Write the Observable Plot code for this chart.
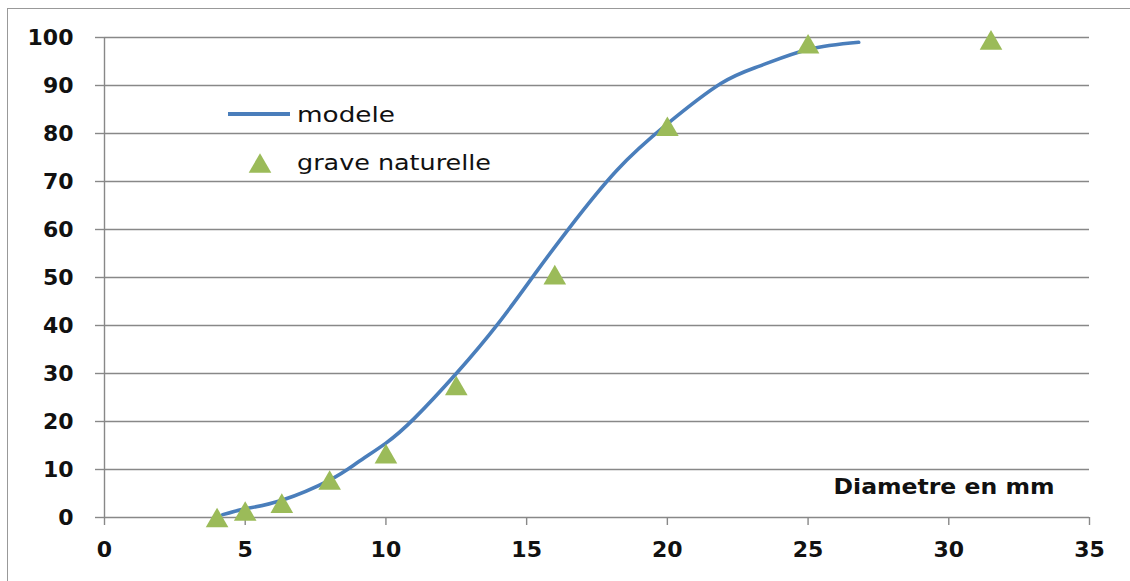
<!DOCTYPE html>
<html><head><meta charset="utf-8">
<script src="https://cdn.jsdelivr.net/npm/d3@7"></script>
<script src="https://cdn.jsdelivr.net/npm/@observablehq/plot@0.6"></script>
<style>
body{margin:0;background:#fff;}
#wrap{position:relative;width:1130px;height:581px;overflow:hidden;background:#fff;}
#frame{position:absolute;left:7px;top:8px;width:1300px;height:800px;border:1px solid #999;}
#chart{position:absolute;left:0;top:0;}
#legend{position:absolute;left:0;top:0;pointer-events:none;}
</style></head><body>
<div id="wrap"><div id="frame"></div><div id="chart"></div><svg id="legend" width="1130" height="581"></svg></div>
<script>
const seriesNames = ["modele", "grave naturelle"];
const xLabel = "Diametre en mm";
const modeleX = [4.2, 5, 6.3, 8, 9, 10, 11, 12.5, 14, 15.3, 16.5, 18.2, 20, 21.9, 23.3, 25, 26.8];
const modeleY = [0.6, 1.8, 3.6, 7.8, 11.5, 15.5, 20.6, 30, 40.5, 50.8, 60.2, 72.3, 82, 90.4, 94.1, 97.5, 99];
const graveX = [4, 5, 6.3, 8, 10, 12.5, 16, 20, 25, 31.5];
const graveY = [0, 1.35, 3, 7.8, 13.3, 27.5, 50.6, 81.5, 98.7, 99.5];
const xTicks = [0, 5, 10, 15, 20, 25, 30, 35];
const yTicks = [0, 10, 20, 30, 40, 50, 60, 70, 80, 90, 100];

const modele = modeleX.map((x, i) => ({x, y: modeleY[i]}));
const grave = graveX.map((x, i) => ({x, y: graveY[i]}));

const blue = "#4A7EBB", green = "#9BBB59", grid = "#888888";
const tickFont = "DejaVu Sans", textFont = "DejaVu Sans";

// triangle centred on its bounding box (like Excel markers)
const triangle = {
  draw(ctx, size) {
    const s = Math.sqrt(size * 4 / Math.sqrt(3));
    const h = s * Math.sqrt(3) / 2;
    ctx.moveTo(0, -h / 2);
    ctx.lineTo(s / 2, h / 2);
    ctx.lineTo(-s / 2, h / 2);
    ctx.closePath();
  }
};

const chart = Plot.plot({
  width: 1130, height: 581,
  marginLeft: 104, marginRight: 41, marginTop: 37, marginBottom: 64,
  x: {domain: [0, 35]},
  y: {domain: [0, 100]},
  style: {background: "transparent"},
  marks: [
    Plot.gridY(yTicks, {stroke: grid, strokeOpacity: 1, strokeWidth: 1.4}),
    Plot.axisY(yTicks, {tickSize: 9, tickPadding: 22, stroke: grid, strokeWidth: 1.4, fill: "#111",
      fontFamily: tickFont, fontSize: 22, fontWeight: "bold", label: null, tickFormat: d => d}),
    Plot.ruleX([0], {stroke: grid, strokeWidth: 1.4}),
    Plot.axisX(xTicks, {tickSize: 8, tickPadding: 16, stroke: grid, strokeWidth: 1.4, fill: "#111",
      fontFamily: tickFont, fontSize: 22, fontWeight: "bold", label: null, tickFormat: d => d}),
    Plot.line(modele, {x: "x", y: "y", curve: "natural", stroke: blue, strokeWidth: 3.6}),
    Plot.dot(grave, {x: "x", y: "y", symbol: triangle, r: 8.4, fill: green, stroke: "none"}),
    Plot.text([xLabel], {frameAnchor: "bottom-right", dx: -35, dy: -24, textAnchor: "end",
      fontFamily: textFont, fontSize: 21, fontWeight: "bold", fill: "#111"})
  ]
});
document.getElementById("chart").appendChild(chart);

// stretch axis-title text to match the reference's wide lettering
d3.select(chart).selectAll("text").filter(function(){ return this.textContent === xLabel; })
  .attr("textLength", 221).attr("lengthAdjust", "spacingAndGlyphs");

// legend
const leg = d3.select("#legend");
const lg = leg.append("g").attr("font-family", textFont).attr("font-size", 21).attr("fill", "#111");
lg.append("line").attr("x1", 228).attr("x2", 290).attr("y1", 114).attr("y2", 114)
  .attr("stroke", blue).attr("stroke-width", 4);
lg.append("text").attr("x", 297).attr("y", 122).text(seriesNames[0])
  .attr("textLength", 98).attr("lengthAdjust", "spacingAndGlyphs");
const p = d3.path(); triangle.draw(p, Math.PI * 8.4 * 8.4);
lg.append("path").attr("d", p.toString()).attr("transform", "translate(260,163)").attr("fill", green);
lg.append("text").attr("x", 297).attr("y", 170).text(seriesNames[1])
  .attr("textLength", 194).attr("lengthAdjust", "spacingAndGlyphs");
</script>
</body></html>
